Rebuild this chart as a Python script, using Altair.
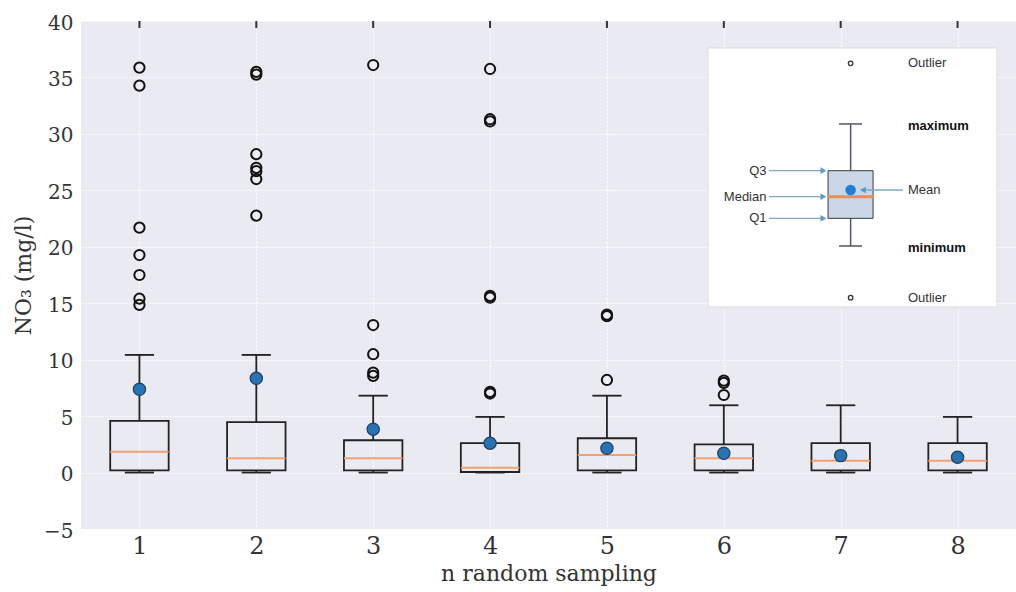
import altair as alt
import pandas as pd

# ---------------- data ----------------
groups = [1, 2, 3, 4, 5, 6, 7, 8]
whisker_low = [0.0, 0.0, 0.0, 0.0, 0.0, 0.0, 0.0, 0.0]
q1 = [0.2, 0.2, 0.2, 0.05, 0.2, 0.2, 0.2, 0.2]
median = [1.85, 1.27, 1.27, 0.43, 1.56, 1.27, 1.05, 1.05]
q3 = [4.57, 4.46, 2.86, 2.6, 3.04, 2.5, 2.6, 2.6]
whisker_high = [10.42, 10.42, 6.81, 4.93, 6.81, 5.96, 5.96, 4.93]
means = [7.38, 8.35, 3.84, 2.6, 2.15, 1.71, 1.5, 1.36]
outliers = {
    1: [35.87, 34.27, 21.69, 19.27, 17.5, 15.4, 14.85],
    2: [35.5, 35.25, 28.2, 27.0, 26.7, 26.0, 22.76],
    3: [36.1, 13.07, 10.48, 8.85, 8.56],
    4: [35.75, 31.3, 31.1, 15.65, 15.5, 7.15, 7.0],
    5: [14.0, 13.85, 8.2],
    6: [8.15, 7.95, 6.87],
    7: [],
    8: [],
}
y_ticks = [-5, 0, 5, 10, 15, 20, 25, 30, 35, 40]

# ---------------- inset legend (axis units) ----------------
inset_frame = {"x1": 5.865, "x2": 8.337, "y1": 14.67, "y2": 37.61}
inset_box = {"c": 7.085, "l": 6.892, "r": 7.277, "cl": 6.986, "cr": 7.183,
             "lo": 20.07, "q1": 22.52, "med": 24.44, "q3": 26.74, "hi": 30.88,
             "mean": 25.03, "out_hi": 36.25, "out_lo": 15.49}
left_labels = ["Q3", "Median", "Q1"]
left_label_y = [26.74, 24.44, 22.52]
left_label_x = 6.365
arrow_start_x = 6.387
arrow_end_x = 6.84
arrow_head_x = 6.852
right_labels = ["Outlier", "maximum", "Mean", "minimum", "Outlier"]
right_label_y = [36.28, 30.70, 25.03, 19.89, 15.46]
right_label_bold = [False, True, False, True, False]
right_label_x = 7.576
mean_arrow_start = 7.533
mean_arrow_end = 7.205
mean_arrow_head = 7.19

# ---------------- frames ----------------
stats = pd.DataFrame({"n": groups, "lo": whisker_low, "q1": q1, "med": median,
                      "q3": q3, "hi": whisker_high, "mean": means})
out_rows = [{"n": k, "v": v} for k, vs in outliers.items() for v in vs]
outs = pd.DataFrame(out_rows)

XS = alt.Scale(domain=[0.5, 8.5], nice=False, zero=False)
YS = alt.Scale(domain=[-5, 40], nice=False, zero=False)
FONT = "DejaVu Serif"
TXT = "#333333"

x_axis = alt.Axis(values=groups, format="d", tickSize=0, domain=False,
                  labelFont=FONT, labelFontSize=24, labelColor=TXT, labelPadding=5,
                  title="n random sampling", titleFont=FONT, titleFontSize=22,
                  titleFontWeight="normal", titleColor=TXT, titlePadding=5,
                  grid=True, gridColor="white", gridDash=[2, 2], gridWidth=1.2)
y_axis = alt.Axis(values=y_ticks, format="d", tickSize=0, domain=False,
                  labelFont=FONT, labelFontSize=20, labelColor=TXT, labelPadding=8,
                  labelOffset=2,
                  title="NO₃ (mg/l)", titleFont=FONT, titleFontSize=22,
                  titleFontWeight="normal", titleColor=TXT, titlePadding=8,
                  grid=True, gridColor="white", gridDash=[2, 2], gridWidth=1.2)


def X(f):
    return alt.X(f, type="quantitative", scale=XS, axis=x_axis)


def Y(f):
    return alt.Y(f, type="quantitative", scale=YS, axis=y_axis)


base = alt.Chart(stats).transform_calculate(
    xl="datum.n - 0.25", xr="datum.n + 0.25",
    cl="datum.n - 0.125", cr="datum.n + 0.125")

BLACK = "#222222"

boxes = base.mark_rect(fillOpacity=0, stroke=BLACK, strokeWidth=1.8).encode(
    x=X("xl:Q"), x2="xr:Q", y=Y("q1:Q"), y2="q3:Q")
whisk_lo = base.mark_rule(color=BLACK, strokeWidth=1.8).encode(
    x=X("n:Q"), y=Y("lo:Q"), y2="q1:Q")
whisk_hi = base.mark_rule(color=BLACK, strokeWidth=1.8).encode(
    x=X("n:Q"), y=Y("q3:Q"), y2="hi:Q")
cap_lo = base.mark_rule(color=BLACK, strokeWidth=1.8).encode(
    x=X("cl:Q"), x2="cr:Q", y=Y("lo:Q"))
cap_hi = base.mark_rule(color=BLACK, strokeWidth=1.8).encode(
    x=X("cl:Q"), x2="cr:Q", y=Y("hi:Q"))
meds = base.mark_rule(color="#f4a070", strokeWidth=2).encode(
    x=X("xl:Q"), x2="xr:Q", y=Y("med:Q"))
fliers = alt.Chart(outs).mark_point(shape="circle", filled=False, stroke="#111111",
                                    strokeWidth=2, size=105, opacity=1).encode(
    x=X("n:Q"), y=Y("v:Q"))
mean_pts = base.mark_circle(size=150, color="#2a72b2", stroke="#1d3f62",
                            strokeWidth=1.2, opacity=1).encode(
    x=X("n:Q"), y=Y("mean:Q"))
# inward tick marks along the top edge (tick length as a style in pixels)
top_ticks = base.mark_rule(color="#333333", strokeWidth=2).encode(
    x=X("n:Q"), y=alt.value(0), y2=alt.value(7))

# ---------------- inset ----------------
frame_df = pd.DataFrame([inset_frame])
ib = pd.DataFrame([inset_box])
inset_bg = alt.Chart(frame_df).mark_rect(fill="white", stroke="#dcdcdc", strokeWidth=1).encode(
    x=X("x1:Q"), x2="x2:Q", y=Y("y1:Q"), y2="y2:Q")
ib_base = alt.Chart(ib)
WH = "#4d5864"
i_wlo = ib_base.mark_rule(color=WH, strokeWidth=1.5).encode(x=X("c:Q"), y=Y("lo:Q"), y2="q1:Q")
i_whi = ib_base.mark_rule(color=WH, strokeWidth=1.5).encode(x=X("c:Q"), y=Y("q3:Q"), y2="hi:Q")
i_clo = ib_base.mark_rule(color=WH, strokeWidth=1.5).encode(x=X("cl:Q"), x2="cr:Q", y=Y("lo:Q"))
i_chi = ib_base.mark_rule(color=WH, strokeWidth=1.5).encode(x=X("cl:Q"), x2="cr:Q", y=Y("hi:Q"))
i_box = ib_base.mark_rect(fill="#c9d7e8", stroke="#3a3a3a", strokeWidth=1).encode(
    x=X("l:Q"), x2="r:Q", y=Y("q1:Q"), y2="q3:Q")
i_med = ib_base.mark_rule(color="#f08a5d", strokeWidth=3).encode(x=X("l:Q"), x2="r:Q", y=Y("med:Q"))
i_mean = ib_base.mark_circle(size=110, color="#1f7fd8", opacity=1).encode(x=X("c:Q"), y=Y("mean:Q"))
i_out_hi = ib_base.mark_point(shape="circle", filled=False, stroke="#333333", strokeWidth=1.3,
                              size=20, opacity=1).encode(x=X("c:Q"), y=Y("out_hi:Q"))
i_out_lo = ib_base.mark_point(shape="circle", filled=False, stroke="#333333", strokeWidth=1.3,
                              size=20, opacity=1).encode(x=X("c:Q"), y=Y("out_lo:Q"))

ll = pd.DataFrame({"t": left_labels, "y": left_label_y, "x": left_label_x,
                   "xa": arrow_start_x, "xb": arrow_end_x, "xh": arrow_head_x})
i_ltext = alt.Chart(ll).mark_text(align="right", baseline="middle", font="Liberation Sans",
                                  fontSize=13, color=TXT).encode(
    x=X("x:Q"), y=Y("y:Q"), text="t:N")
ARW = "#7ea8c4"
i_larrow = alt.Chart(ll).mark_rule(color=ARW, strokeWidth=1.3).encode(
    x=X("xa:Q"), x2="xb:Q", y=Y("y:Q"))
i_lhead = alt.Chart(ll).mark_point(shape="triangle-right", filled=True, color="#5b9ac6",
                                   size=45, opacity=1).encode(x=X("xh:Q"), y=Y("y:Q"))

rl = pd.DataFrame({"t": right_labels, "y": right_label_y, "x": right_label_x,
                   "w": ["bold" if b else "normal" for b in right_label_bold]})
i_rtext_n = alt.Chart(rl).transform_filter("datum.w == 'normal'").mark_text(
    align="left", baseline="middle", font="Liberation Sans", fontSize=13, color=TXT).encode(
    x=X("x:Q"), y=Y("y:Q"), text="t:N")
i_rtext_b = alt.Chart(rl).transform_filter("datum.w == 'bold'").mark_text(
    align="left", baseline="middle", font="Liberation Sans", fontSize=13, fontWeight="bold",
    color="#111111").encode(x=X("x:Q"), y=Y("y:Q"), text="t:N")

ma = pd.DataFrame({"y": [inset_box["mean"]], "xa": [mean_arrow_start],
                   "xb": [mean_arrow_end], "xh": [mean_arrow_head]})
i_marrow = alt.Chart(ma).mark_rule(color=ARW, strokeWidth=1.3).encode(
    x=X("xa:Q"), x2="xb:Q", y=Y("y:Q"))
i_mhead = alt.Chart(ma).mark_point(shape="triangle-left", filled=True, color="#5b9ac6",
                                   size=45, opacity=1).encode(x=X("xh:Q"), y=Y("y:Q"))

chart = alt.layer(
    boxes, whisk_lo, whisk_hi, cap_lo, cap_hi, meds, fliers, mean_pts, top_ticks,
    inset_bg, i_wlo, i_whi, i_clo, i_chi, i_box, i_med, i_mean, i_out_hi, i_out_lo,
    i_larrow, i_lhead, i_ltext, i_rtext_n, i_rtext_b, i_marrow, i_mhead,
).properties(
    width=935, height=508,
    padding={"left": 81, "top": 21, "right": 0, "bottom": 63},
    autosize="none", background="white",
).configure_view(fill="#eaeaf2", strokeWidth=0)

chart.save("out.html", embed_options={"renderer": "svg", "actions": False})
